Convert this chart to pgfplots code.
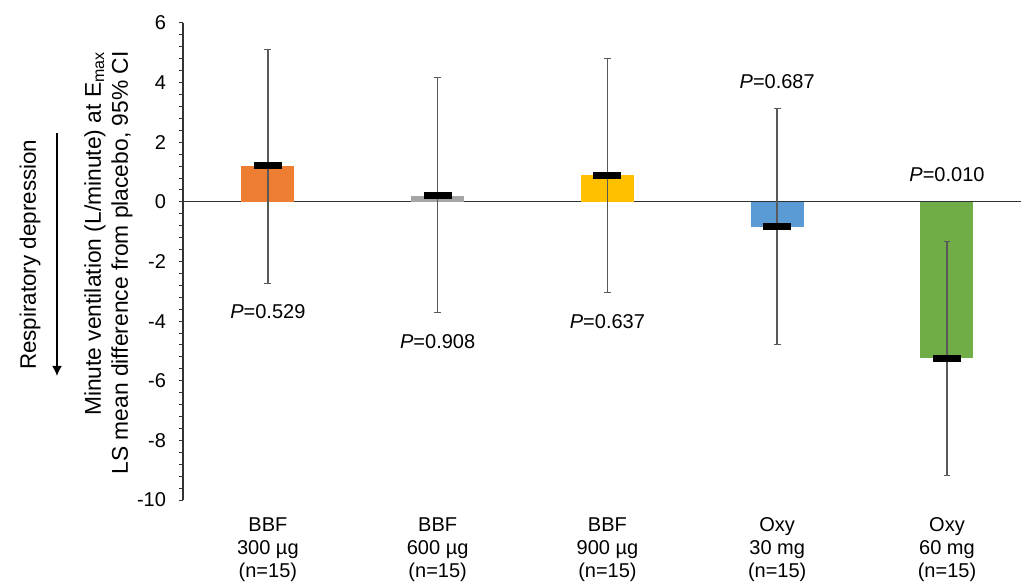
\documentclass[border=0pt]{standalone}
\usepackage{fontspec}
\setmainfont{Liberation Sans}
\usepackage{pgfplots}
\pgfplotsset{compat=1.18}
\usetikzlibrary{arrows.meta}
\definecolor{cOrange}{HTML}{ED7D31}
\definecolor{cGray}{HTML}{A5A5A5}
\definecolor{cYellow}{HTML}{FFC000}
\definecolor{cBlue}{HTML}{5B9BD5}
\definecolor{cGreen}{HTML}{70AD47}
\definecolor{cErr}{HTML}{595959}
\pgfdeclareplotmark{lsbar}{\pgfpathrectangle{\pgfpoint{-7pt}{-1.75pt}}{\pgfpoint{14pt}{3.5pt}}\pgfusepathqfill}
\begin{document}
\begin{tikzpicture}
\begin{axis}[
  scale only axis,
  width=419pt, height=238.5pt,
  xmin=-0.5, xmax=4.436,
  ymin=-10, ymax=6,
  ytick={-10,-8,...,6},
  minor y tick num=4,
  axis lines*=left,
  x axis line style={draw=none},
  y axis line style={draw=black!80, line width=0.6pt},
  xtick={0,1,2,3,4},
  xticklabels={{BBF\\300 µg\\(n=15)},{BBF\\600 µg\\(n=15)},{BBF\\900 µg\\(n=15)},{Oxy\\30 mg\\(n=15)},{Oxy\\60 mg\\(n=15)}},
  xtick style={draw=none},
  xticklabel style={align=center, font=\fontsize{10}{11.5}\selectfont, yshift=-3.3pt},
  ytick style={draw=black!80, line width=0.5pt},
  tick align=outside,
  major tick length=2pt,
  minor tick length=2pt,
  yticklabel style={xshift=-3pt},
  /pgf/number format/assume math mode=true,
  clip=false,
]
\draw[black!80, line width=0.6pt] (axis cs:-0.5,0) -- (axis cs:4.436,0);
% bars with 95% CI
\addplot[ybar, bar width=26.5pt, bar shift=0pt, fill=cOrange, draw=none,
  error bars/.cd, y dir=both, y explicit, error bar style={cErr, line width=0.8pt}, error mark options={cErr, mark size=1.7pt, rotate=90}]
  coordinates {(0,1.22) += (0,3.91) -= (0,3.94)};
\addplot[ybar, bar width=26.5pt, bar shift=0pt, fill=cGray, draw=none,
  error bars/.cd, y dir=both, y explicit, error bar style={cErr, line width=0.8pt}, error mark options={cErr, mark size=1.7pt, rotate=90}]
  coordinates {(1,0.21) += (0,3.95) -= (0,3.93)};
\addplot[ybar, bar width=26.5pt, bar shift=0pt, fill=cYellow, draw=none,
  error bars/.cd, y dir=both, y explicit, error bar style={cErr, line width=0.8pt}, error mark options={cErr, mark size=1.7pt, rotate=90}]
  coordinates {(2,0.90) += (0,3.92) -= (0,3.92)};
\addplot[ybar, bar width=26.5pt, bar shift=0pt, fill=cBlue, draw=none,
  error bars/.cd, y dir=both, y explicit, error bar style={cErr, line width=0.8pt}, error mark options={cErr, mark size=1.7pt, rotate=90}]
  coordinates {(3,-0.83) += (0,3.95) -= (0,3.94)};
\addplot[ybar, bar width=26.5pt, bar shift=0pt, fill=cGreen, draw=none,
  error bars/.cd, y dir=both, y explicit, error bar style={cErr, line width=0.8pt}, error mark options={cErr, mark size=1.7pt, rotate=90}]
  coordinates {(4,-5.24) += (0,3.91) -= (0,3.94)};
% LS mean markers
\addplot[only marks, mark=lsbar, black] coordinates {(0,1.22) (1,0.21) (2,0.90) (3,-0.83) (4,-5.24)};
% P values
\node at (axis cs:0,-3.68) {\textit{P}=0.529};
\node at (axis cs:1,-4.69) {\textit{P}=0.908};
\node at (axis cs:2,-4.03) {\textit{P}=0.637};
\node at (axis cs:3,4.03) {\textit{P}=0.687};
\node at (axis cs:4,0.93) {\textit{P}=0.010};
% annotations
\node[rotate=90, align=right, font=\fontsize{11.4}{13.5}\selectfont] at ([xshift=-37.25pt]rel axis cs:0,0.497) {Minute ventilation (L/minute) at E\textsubscript{max}\\LS mean difference from placebo, 95\% CI};
\node[rotate=90, font=\fontsize{11.2}{13}\selectfont] at ([xshift=-76.5pt]rel axis cs:0,0.514) {Respiratory depression};
\draw[-{Latex[length=5pt,width=5pt]}, line width=0.8pt] ([xshift=-63pt]rel axis cs:0,0.77) -- ([xshift=-63pt]rel axis cs:0,0.26);
\coordinate (bl) at (rel axis cs:0,0);
\coordinate (tr) at (rel axis cs:1,1);
\end{axis}
\pgfresetboundingbox
\path ([shift={(-91.5pt,-41.5pt)}]bl) rectangle ([shift={(0pt,11.5pt)}]tr);
\end{tikzpicture}
\end{document}
